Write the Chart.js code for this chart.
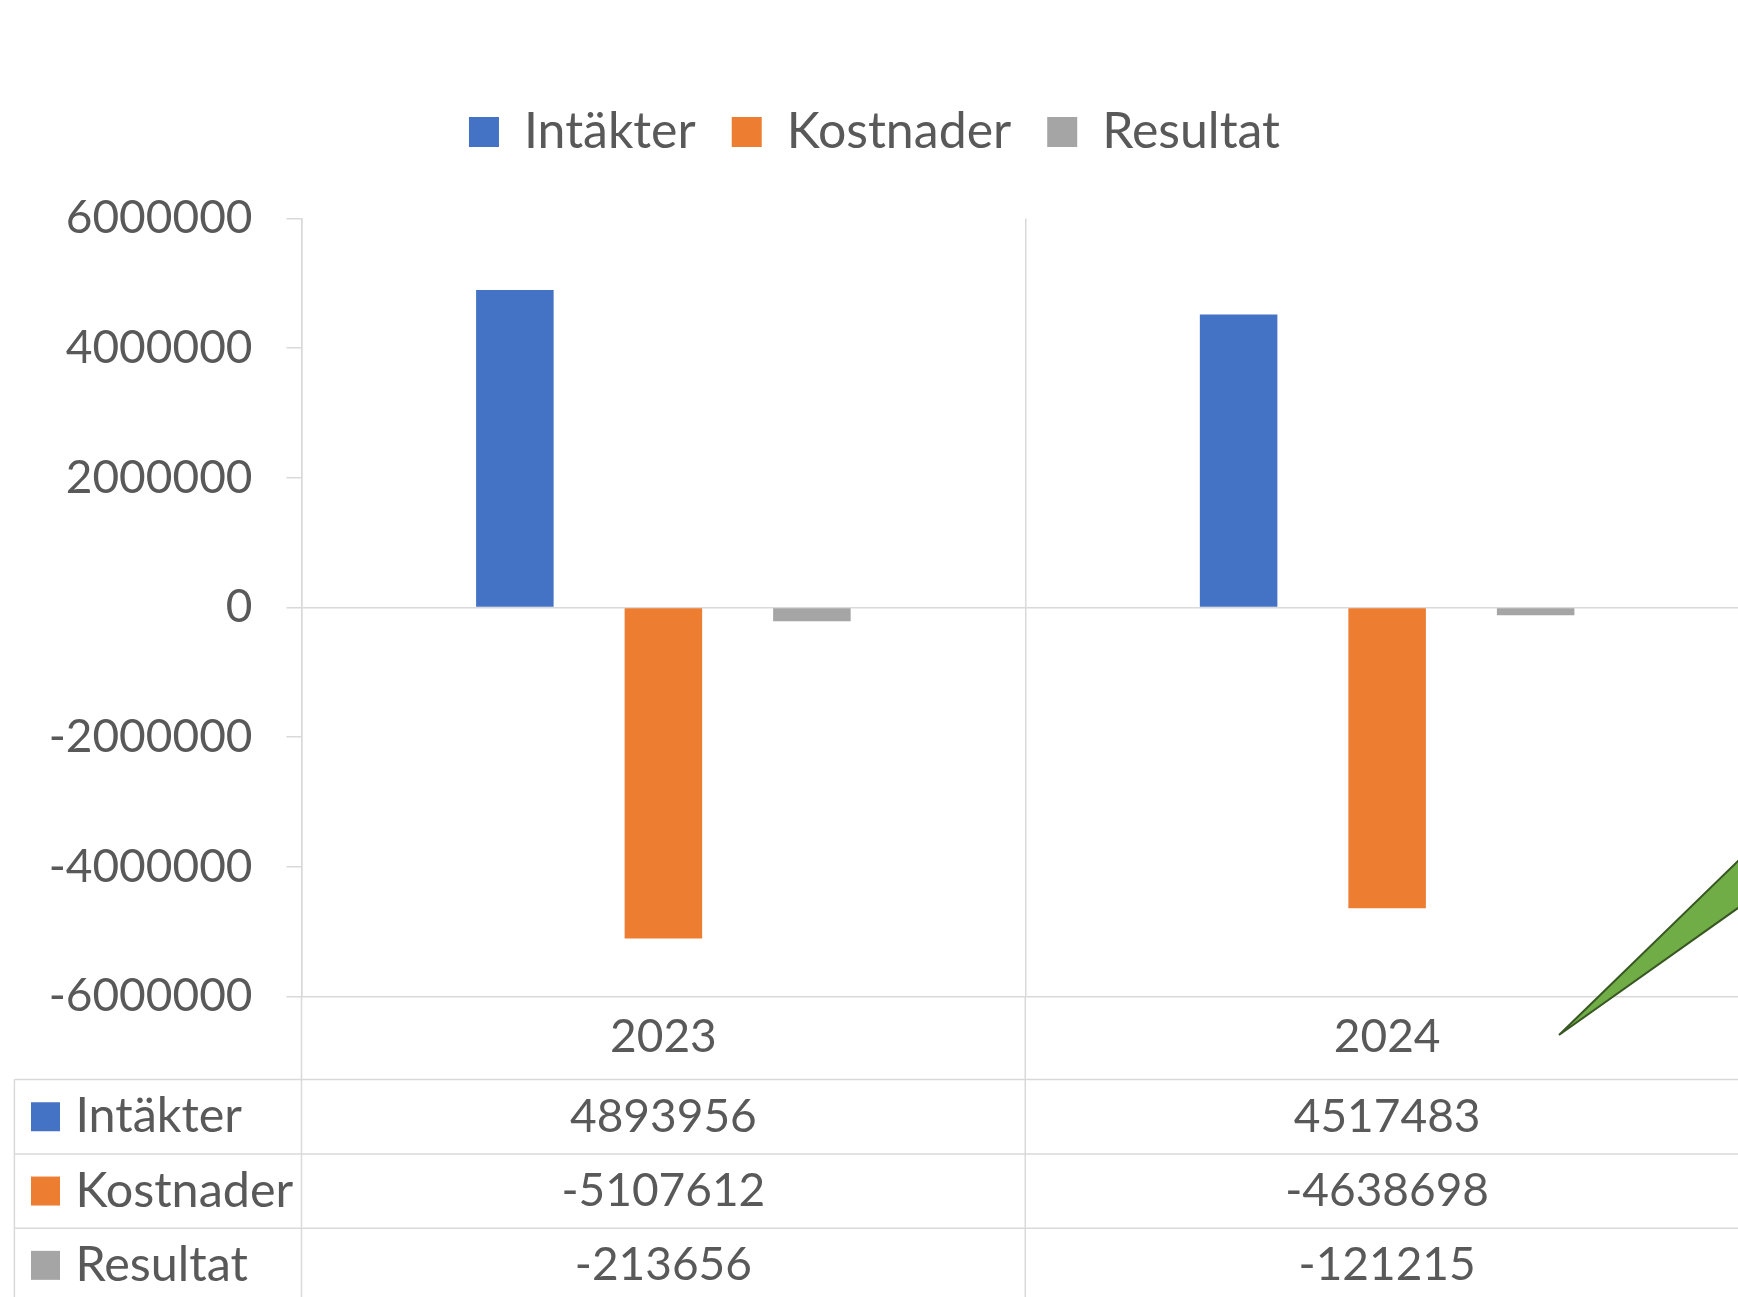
<!DOCTYPE html>
<html><head><meta charset="utf-8">
<script src="https://cdn.jsdelivr.net/npm/chart.js@4/dist/chart.umd.min.js"></script>
<style>
html,body{margin:0;padding:0;overflow:hidden;background:#fff;width:1738px;height:1297px}
#wrap{width:1760px;height:1297px;position:relative}
canvas{display:block}
</style>
</head><body><div id="wrap"><canvas id="c" width="1760" height="1297"></canvas></div>
<script>
const categories = ['2023', '2024'];
const seriesNames = ['Intäkter', 'Kostnader', 'Resultat'];
const intakter = [4893956, 4517483];
const kostnader = [-5107612, -4638698];
const resultat = [-213656, -121215];
const yTicks = [-6000000, -4000000, -2000000, 0, 2000000, 4000000, 6000000];
const seriesColors = ['#4472C4', '#ED7D31', '#A5A5A5'];

const TEXT = '#595959';
const GRID = '#D9D9D9';
const FONT = 'Lato';
const FS_NUM = 46;
const FS_TXT = 50;
const FS_TABLE = 48.5;

const seriesData = [intakter, kostnader, resultat];

const helper = {
  id: 'helper',
  beforeLayout(chart) {
    const lg = chart.legend;
    if (lg && !lg._patched) {
      const f = lg.fit;
      lg.fit = function () { f.call(this); this.height = 147.4; };
      lg._patched = true;
    }
  },
  afterDraw(chart) {
    const ctx = chart.ctx, ca = chart.chartArea, xs = chart.scales.x;
    const W = chart.width, H = chart.height;
    const tableTop = ca.bottom + 83.2, rowH = 74.3;
    const catW = (ca.right - ca.left) / categories.length;
    ctx.save();
    ctx.strokeStyle = GRID; ctx.lineWidth = 1.5;
    ctx.beginPath();
    for (let r = 0; r < seriesNames.length; r++) {
      const y = tableTop + r * rowH;
      ctx.moveTo(14.4, y); ctx.lineTo(W, y);
    }
    ctx.moveTo(14.4, tableTop); ctx.lineTo(14.4, H);
    for (let k = 0; k <= categories.length; k++) {
      const x = ca.left + k * catW;
      ctx.moveTo(x, ca.bottom); ctx.lineTo(x, H);
    }
    ctx.stroke();
    ctx.textBaseline = 'middle';
    for (let s = 0; s < seriesNames.length; s++) {
      const yc = tableTop + s * rowH + rowH / 2;
      ctx.fillStyle = seriesColors[s];
      ctx.fillRect(31, yc - 14.5, 29, 29);
      ctx.fillStyle = TEXT;
      ctx.textAlign = 'left';
      ctx.font = FS_TABLE + 'px ' + FONT;
      ctx.fillText(seriesNames[s], 75.4, yc);
      ctx.textAlign = 'center';
      ctx.font = FS_NUM + 'px ' + FONT;
      for (let i = 0; i < categories.length; i++) {
        ctx.fillText(String(seriesData[s][i]), xs.getPixelForValue(i), yc);
      }
    }
    // green arrow shape annotation
    ctx.beginPath();
    ctx.moveTo(1559, 1035);
    ctx.lineTo(1760, 839.6);
    ctx.lineTo(1760, 892.4);
    ctx.closePath();
    ctx.fillStyle = '#70AD47';
    ctx.fill();
    ctx.strokeStyle = '#385723';
    ctx.lineWidth = 2;
    ctx.stroke();
    ctx.restore();
  }
};

new Chart(document.getElementById('c'), {
  type: 'bar',
  data: {
    labels: categories,
    datasets: seriesNames.map((n, i) => ({
      label: n,
      data: seriesData[i],
      backgroundColor: seriesColors[i],
      borderWidth: 0,
      barPercentage: 0.522,
      categoryPercentage: 0.6156
    }))
  },
  options: {
    responsive: false,
    animation: false,
    layout: { padding: { top: 71, right: 11, left: 0, bottom: 0 } },
    plugins: {
      tooltip: { enabled: false },
      legend: {
        position: 'top',
        labels: {
          boxWidth: 30, boxHeight: 30, padding: 36,
          color: TEXT, font: { family: FONT, size: FS_TXT }
        }
      }
    },
    scales: {
      x: {
        grid: { display: true, offset: true, color: GRID, lineWidth: 1.5, drawTicks: false },
        border: { display: true, color: GRID, width: 1.5 },
        ticks: { color: TEXT, font: { family: FONT, size: FS_NUM }, padding: 13 },
        afterFit(s) { s.height = 300.6; }
      },
      y: {
        min: -6000000, max: 6000000,
        afterBuildTicks(s) { s.ticks = yTicks.map(v => ({ value: v })); },
        grid: {
          color: c => (c.tick && c.tick.value === 0) ? GRID : 'rgba(0,0,0,0)',
          tickColor: GRID, tickLength: 15, lineWidth: 1.5
        },
        border: { display: true, color: GRID, width: 1.5 },
        ticks: { color: TEXT, font: { family: FONT, size: FS_NUM }, padding: 34, callback: v => String(v) },
        afterFit(s) { s.width = 301.5; }
      }
    }
  },
  plugins: [helper]
});
</script>
</body></html>
